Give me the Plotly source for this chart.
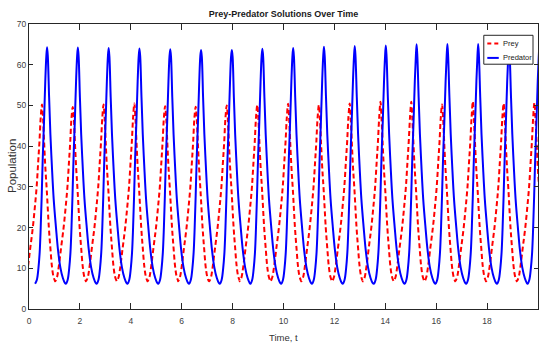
import plotly.graph_objects as go

# ---- data ----
pred_peak_t = [0.71, 1.92, 3.13, 4.34, 5.55, 6.76, 7.97, 9.17, 10.38, 11.59,
               12.80, 14.02, 15.23, 16.44, 17.65, 18.86, 20.06]
pred_peak_v = [64.3, 64.2, 64.1, 64.0, 63.8, 63.6, 63.6, 63.9, 64.1, 64.4,
               64.6, 64.7, 65.0, 65.1, 65.1, 65.0, 65.0]
# one predator cycle as read around a peak (time offset, population)
pred_cycle_dt = [-0.47, -0.40, -0.34, -0.29, -0.25, -0.21, -0.17, -0.12, -0.07, -0.03,
                 0.0, 0.03, 0.08, 0.13, 0.19, 0.26, 0.35, 0.43, 0.52, 0.62, 0.70]
pred_cycle_v = [6.2, 7.2, 10.0, 14.0, 20.0, 28.0, 37.0, 46.0, 56.0, 62.0,
                64.0, 62.0, 52.0, 43.0, 35.0, 27.0, 20.0, 14.5, 10.3, 7.6, 6.4]

prey_peak_t = [0.51, 1.72, 2.93, 4.14, 5.35, 6.55, 7.77, 8.97, 10.18, 11.39,
               12.60, 13.81, 15.02, 16.23, 17.44, 18.65, 19.86]
prey_peak_v = [50.2, 49.6, 50.2, 50.5, 49.8, 49.7, 50.0, 50.1, 50.4, 50.1,
               50.5, 50.9, 50.9, 50.2, 51.0, 50.5, 50.7]
prey_cycle_dt = [-0.69, -0.62, -0.56, -0.46, -0.36, -0.28, -0.21, -0.15, -0.10, -0.05,
                 0.0, 0.04, 0.08, 0.13, 0.19, 0.27, 0.33, 0.39, 0.45, 0.51]
prey_cycle_v = [6.8, 7.8, 10.0, 15.0, 20.0, 25.0, 30.0, 36.0, 41.0, 47.0,
                50.0, 47.0, 41.5, 35.0, 29.0, 20.0, 15.0, 10.5, 8.0, 6.9]

x_ticks = [0, 2, 4, 6, 8, 10, 12, 14, 16, 18, 20]
y_ticks = [0, 10, 20, 30, 40, 50, 60, 70]


def build(peaks_t, peaks_v, cyc_dt, cyc_v):
    ts, vs = [], []
    for pt, pv in zip(peaks_t, peaks_v):
        for dt, v in zip(cyc_dt, cyc_v):
            ts.append(round(pt + dt, 3))
            vs.append(pv if dt == 0.0 else v)
    return ts, vs


prey_t, prey_v = build(prey_peak_t, prey_peak_v, prey_cycle_dt, prey_cycle_v)
pred_t, pred_v = build(pred_peak_t, pred_peak_v, pred_cycle_dt, pred_cycle_v)

FONT = "Liberation Sans, Arial, sans-serif"
AX = "#262626"
TXT = "#404040"

fig = go.Figure()
fig.add_trace(go.Scatter(x=prey_t, y=prey_v, mode="lines", name="Prey",
                         line=dict(color="#ff0000", width=2, dash="5px,3px", shape="spline"),
                         showlegend=False))
fig.add_trace(go.Scatter(x=pred_t, y=pred_v, mode="lines", name="Predator",
                         line=dict(color="#0000ff", width=2, shape="spline"),
                         showlegend=False))

fig.update_layout(
    width=540, height=347,
    margin=dict(l=28.5, r=1.7, t=23.7, b=37.7, autoexpand=False),
    paper_bgcolor="white", plot_bgcolor="white",
    title=dict(text="<b>Prey-Predator Solutions Over Time</b>", x=0.5, xref="paper",
               xanchor="center", y=1 - 13.5 / 347, yanchor="middle",
               font=dict(family=FONT, size=9, color="#1a1a1a")),
    font=dict(family=FONT, size=9, color=TXT),
)
fig.update_xaxes(range=[0, 20], tickvals=x_ticks, ticks="inside", ticklen=6,
                 tickcolor=AX, showline=True, linecolor=AX, linewidth=1,
                 mirror="allticks", showgrid=False, zeroline=False, automargin=False,
                 tickfont=dict(family=FONT, size=8.5, color=TXT), ticklabelstandoff=4)
fig.update_yaxes(range=[0, 70], tickvals=y_ticks, ticks="inside", ticklen=4,
                 tickcolor=AX, showline=True, linecolor=AX, linewidth=1,
                 mirror="allticks", showgrid=False, zeroline=False, automargin=False,
                 tickfont=dict(family=FONT, size=8.5, color=TXT))

# axis titles
fig.add_annotation(text="Time, t", xref="paper", yref="paper", x=0.5, y=-0.1005,
                   xanchor="center", yanchor="middle", showarrow=False,
                   font=dict(family=FONT, size=9.5, color="#333333"))
fig.add_annotation(text="Population", xref="paper", yref="paper", x=-0.0343, y=0.5,
                   xanchor="center", yanchor="middle", textangle=-90, showarrow=False,
                   font=dict(family=FONT, size=11.5, color="#333333"))

# legend box (MATLAB style)
lx0, lx1, ly0, ly1 = 0.8935, 0.9902, 0.8589, 0.9604
fig.add_shape(type="rect", xref="paper", yref="paper", x0=lx0, x1=lx1, y0=ly0, y1=ly1,
              line=dict(color=AX, width=1), fillcolor="white", layer="above")
fig.add_shape(type="line", xref="paper", yref="paper", x0=0.9004, x1=0.9229, y0=0.9314, y1=0.9314,
              line=dict(color="#ff0000", width=2, dash="4px,3px"), layer="above")
fig.add_shape(type="line", xref="paper", yref="paper", x0=0.9004, x1=0.9229, y0=0.8810, y1=0.8810,
              line=dict(color="#0000ff", width=2), layer="above")
fig.add_annotation(text="Prey", xref="paper", yref="paper", x=0.9278, y=0.9314,
                   xanchor="left", yanchor="middle", showarrow=False,
                   font=dict(family=FONT, size=7.5, color="#1a1a1a"))
fig.add_annotation(text="Predator", xref="paper", yref="paper", x=0.9278, y=0.8810,
                   xanchor="left", yanchor="middle", showarrow=False,
                   font=dict(family=FONT, size=7.5, color="#1a1a1a"))

fig.write_html("out.html", config={"displayModeBar": False},
               post_script="document.body.style.margin='0';document.body.style.overflow='hidden';")
